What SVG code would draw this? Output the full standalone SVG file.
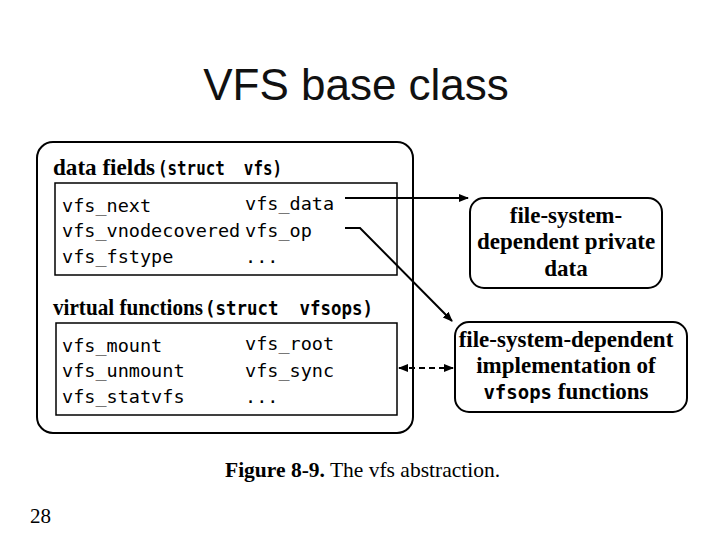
<svg xmlns="http://www.w3.org/2000/svg" width="720" height="540" viewBox="0 0 720 540">
<style>
.box{fill:none;stroke:#000;stroke-width:2}
.thin{fill:none;stroke:#000;stroke-width:1.5}
.mono{font-family:"DejaVu Sans Mono","Liberation Mono",monospace;font-size:18.5px;fill:#000}
.hdr{font-family:"Liberation Serif",serif;font-weight:bold;font-size:22.5px;fill:#000}
.hmono{font-family:"DejaVu Sans Mono","Liberation Mono",monospace;font-weight:bold;font-size:19px;fill:#000}
.lbl{font-family:"Liberation Serif",serif;font-weight:bold;font-size:23px;fill:#000;text-anchor:middle}
.conn{fill:none;stroke:#000;stroke-width:2}
</style>
<defs>
<marker id="ah" viewBox="0 0 10 10" refX="9" refY="5" markerWidth="10" markerHeight="10" markerUnits="userSpaceOnUse" orient="auto-start-reverse">
<path d="M0,1 L10,5 L0,9 Z" fill="#000"/>
</marker>
</defs>
<rect width="720" height="540" fill="#fff"/>
<text x="356" y="100" text-anchor="middle" font-family="Liberation Sans, Arial, sans-serif" font-size="44" fill="#111">VFS base class</text>

<g id="vfs">
<rect class="box" x="37" y="142" width="376" height="291" rx="16"/>
<text x="53" y="175" class="hdr" textLength="102" lengthAdjust="spacingAndGlyphs">data fields</text>
<text x="158" y="175" class="hmono" textLength="124" lengthAdjust="spacingAndGlyphs" xml:space="preserve">(struct  vfs)</text>
<rect class="thin" x="55" y="183" width="342" height="92"/>
<text class="mono" x="62" y="212">vfs_next</text>
<text class="mono" x="245" y="210">vfs_data</text>
<text class="mono" x="62" y="237">vfs_vnodecovered</text>
<text class="mono" x="245" y="237">vfs_op</text>
<text class="mono" x="62" y="263">vfs_fstype</text>
<text class="mono" x="245" y="263">...</text>
<text x="53" y="315" class="hdr" textLength="150" lengthAdjust="spacingAndGlyphs">virtual functions</text>
<text x="205" y="315" class="hmono" textLength="168" lengthAdjust="spacingAndGlyphs" xml:space="preserve">(struct  vfsops)</text>
<rect class="thin" x="56" y="323" width="341" height="92"/>
<text class="mono" x="62" y="352">vfs_mount</text>
<text class="mono" x="245" y="350">vfs_root</text>
<text class="mono" x="62" y="377">vfs_unmount</text>
<text class="mono" x="245" y="377">vfs_sync</text>
<text class="mono" x="62" y="403">vfs_statvfs</text>
<text class="mono" x="245" y="403">...</text>
</g>

<g id="private-data">
<rect class="box" x="470" y="198" width="192" height="90" rx="14"/>
<text class="lbl" x="566" y="223">file-system-</text>
<text class="lbl" x="566" y="249">dependent private</text>
<text class="lbl" x="566" y="276">data</text>
</g>

<g id="impl">
<rect class="box" x="455" y="322" width="232" height="90" rx="14"/>
<text class="lbl" x="566" y="347">file-system-dependent</text>
<text class="lbl" x="566" y="373">implementation of</text>
<text class="lbl" x="566" y="399"><tspan font-family="DejaVu Sans Mono, Liberation Mono, monospace" font-size="19">vfsops</tspan> functions</text>
</g>

<g id="connectors">
<line class="conn" x1="345" y1="198" x2="468" y2="198" marker-end="url(#ah)"/>
<polyline class="conn" points="345,228 360,228 452,321" marker-end="url(#ah)"/>
<line class="conn" x1="399" y1="368" x2="453" y2="368" stroke-dasharray="6,4" marker-start="url(#ah)" marker-end="url(#ah)"/>
</g>

<text x="225" y="477" font-family="Liberation Serif, serif" font-size="21.5" fill="#000"><tspan font-weight="bold">Figure 8-9.</tspan> The vfs abstraction.</text>
<text x="30" y="523" font-family="Liberation Serif, serif" font-size="21" fill="#000">28</text>
</svg>
